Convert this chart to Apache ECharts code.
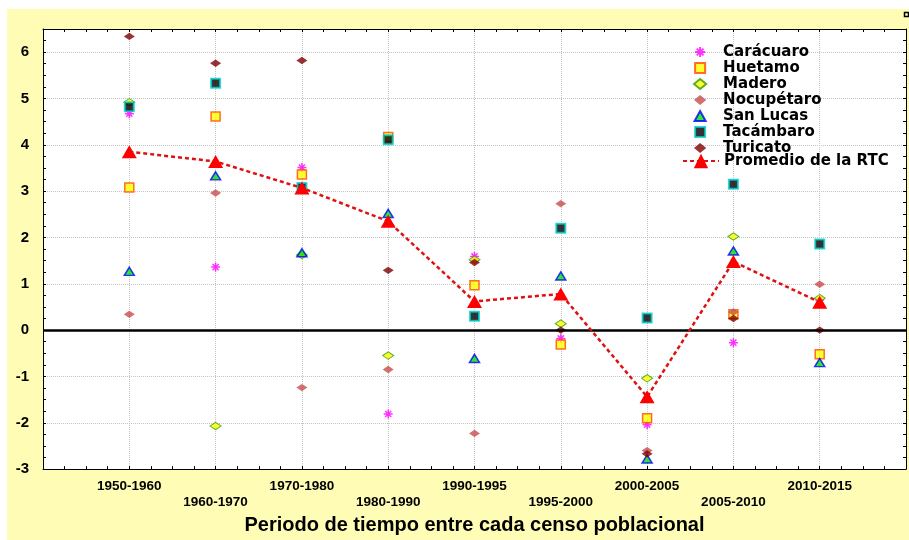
<!DOCTYPE html>
<html>
<head>
<meta charset="utf-8">
<script src="https://cdn.jsdelivr.net/npm/echarts@6/dist/echarts.min.js"></script>
<style>
html,body{margin:0;padding:0;background:#fff;}
#wrap{position:relative;width:909px;height:540px;background:#fff;overflow:hidden;}
#yellow{position:absolute;left:7px;top:9px;width:902px;height:531px;background:#FFFCB6;}
#chart{position:absolute;left:0;top:0;width:909px;height:540px;}
</style>
</head>
<body>
<div id="wrap"><div id="yellow"></div><div id="chart"></div></div>
<script>
const categories = ['1950-1960','1960-1970','1970-1980','1980-1990','1990-1995','1995-2000','2000-2005','2005-2010','2010-2015'];
const caracuaro  = [4.67, 1.36, 3.51, -1.81, 1.59, -0.18, -2.04, -0.27, 0.65];
const huetamo    = [3.08, 4.61, 3.36, 4.17, 0.97, -0.31, -1.90, 0.34, -0.52];
const madero     = [4.92, -2.07, 1.62, -0.55, 1.52, 0.14, -1.04, 2.02, 0.69];
const nocupetaro = [0.34, 2.96, -1.24, -0.85, -2.23, 2.73, -2.60, 0.39, 0.99];
const sanLucas   = [1.27, 3.33, 1.67, 2.52, -0.61, 1.17, -2.78, 1.71, -0.70];
const tacambaro  = [4.82, 5.33, 3.08, 4.11, 0.30, 2.20, 0.26, 3.15, 1.86];
const turicato   = [6.34, 5.76, 5.82, 1.29, 1.46, 0.00, -2.67, 0.25, 0.00];
const promedio   = [3.85, 3.64, 3.07, 2.35, 0.62, 0.78, -1.44, 1.48, 0.60];
const yTicks = [-3, -2, -1, 0, 1, 2, 3, 4, 5, 6];

const toPts = arr => arr.map((v, i) => [i + 1, v]);
const FONT = 'Liberation Sans, Arial, sans-serif';
const isInt = v => Math.abs(v - Math.round(v)) < 1e-6;

const SYM_STAR = 'path://M5,0L5,10M0,5L10,5M1.6,1.6L8.4,8.4M8.4,1.6L1.6,8.4';
const SYM_RECT = 'path://M0,0L10,0L10,10L0,10Z';
const SYM_DIAMOND = 'path://M5.5,0L11,4.5L5.5,9L0,4.5Z';
const SYM_TRI = 'path://M5,0L10,9L0,9Z';

const chart = echarts.init(document.getElementById('chart'), null, {renderer: 'canvas'});

const tickAxisX = (pos, labels) => ({
  type: 'value', position: pos, min: 0, max: 10, interval: 0.25,
  axisLine: {show: true, onZero: false, lineStyle: {color: '#000', width: 1}},
  axisTick: {show: true, inside: true, length: 3, lineStyle: {color: '#000'}},
  splitLine: {show: false},
  axisLabel: labels ? {
    show: true, color: '#000', fontSize: 13.5, fontWeight: 'bold', fontFamily: FONT,
    lineHeight: 16, margin: 9,
    formatter: v => {
      if (!isInt(v)) return '';
      const k = Math.round(v);
      if (k < 1 || k > categories.length) return '';
      return (k % 2 === 0 ? '\n' : '') + categories[k - 1];
    }
  } : {show: false},
  name: labels ? 'Periodo de tiempo entre cada censo poblacional' : '',
  nameLocation: 'middle', nameGap: 44,
  nameTextStyle: {fontSize: 20, fontWeight: 'bold', color: '#000', fontFamily: FONT}
});
const tickAxisY = (pos, labels) => ({
  type: 'value', position: pos, min: -3, max: 6.5, interval: 0.25,
  axisLine: {show: true, onZero: false, lineStyle: {color: '#000', width: 1}},
  axisTick: {show: true, inside: true, length: 3, lineStyle: {color: '#000'}},
  splitLine: {show: false},
  axisLabel: labels ? {
    show: true, color: '#000', fontSize: 15, fontWeight: 'bold', fontFamily: FONT, margin: 14,
    formatter: v => (isInt(v) && yTicks.indexOf(Math.round(v)) >= 0) ? String(Math.round(v)) : ''
  } : {show: false}
});

const scatter = (name, data, symbol, size, style, extra) => Object.assign({
  name, type: 'scatter', xAxisIndex: 0, yAxisIndex: 0,
  data: toPts(data), symbol, symbolSize: size, itemStyle: style, symbolKeepAspect: true,
  emphasis: {disabled: true}
}, extra || {});

const legendText = {fontSize: 15, fontWeight: 'bold', color: '#000', fontFamily: 'DejaVu Sans, sans-serif', lineHeight: 16};

const option = {
  animation: false,
  backgroundColor: 'transparent',
  grid: {left: 43, top: 29, right: 1, bottom: 68, show: true, backgroundColor: '#fff', borderWidth: 0, containLabel: false},
  graphic: [{type: 'rect', shape: {x: 904.5, y: 12.5, width: 4, height: 4}, style: {fill: 'none', stroke: '#000', lineWidth: 1.5}}],
  xAxis: [
    tickAxisX('bottom', true),
    tickAxisX('top', false),
    {type: 'value', position: 'bottom', min: 0, max: 10, interval: 1,
     axisLine: {show: false}, axisTick: {show: false}, axisLabel: {show: false},
     splitLine: {show: true, lineStyle: {color: '#c4c4c4', width: 1, type: 'dotted'}}}
  ],
  yAxis: [
    tickAxisY('left', true),
    tickAxisY('right', false),
    {type: 'value', position: 'left', min: -3, max: 6.5, interval: 1,
     axisLine: {show: false}, axisTick: {show: false}, axisLabel: {show: false},
     splitLine: {show: true, lineStyle: {color: '#c4c4c4', width: 1, type: 'dotted'}}}
  ],
  legend: [{
    orient: 'vertical', left: 693, top: 44, padding: 0, itemGap: 0,
    itemWidth: 36, itemHeight: 10, selectedMode: false, symbolKeepAspect: true,
    textStyle: legendText,
    data: ['Carácuaro', 'Huetamo', 'Madero', 'Nocupétaro', 'San Lucas', 'Tacámbaro', 'Turicato']
  }, {
    orient: 'vertical', left: 682, top: 153, padding: 0, itemGap: 0,
    itemWidth: 36, itemHeight: 18, selectedMode: false, symbolKeepAspect: true,
    textStyle: legendText,
    data: ['Promedio de la RTC']
  }],
  series: [
    scatter('Carácuaro', caracuaro, SYM_STAR, 9,
      {color: '#FF00FF', borderColor: '#FF00FF', borderWidth: 1.5},
      {markLine: {silent: true, symbol: 'none', label: {show: false}, animation: false,
        lineStyle: {color: '#000', width: 2.5, type: 'solid'}, emphasis: {disabled: true},
        data: [{yAxis: 0}]}}),
    scatter('Huetamo', huetamo, SYM_RECT, 9, {color: '#FFFF00', borderColor: '#FF4A00', borderWidth: 1.5}),
    scatter('Madero', madero, SYM_DIAMOND, [11, 9], {color: '#FFFF00', borderColor: '#2E9A00', borderWidth: 1}),
    scatter('Nocupétaro', nocupetaro, SYM_DIAMOND, [11, 9], {color: '#C84B4B'}),
    scatter('San Lucas', sanLucas, SYM_TRI, [10, 9], {color: '#00E000', borderColor: '#0000FF', borderWidth: 1.5}),
    scatter('Tacámbaro', tacambaro, SYM_RECT, 9, {color: '#000000', borderColor: '#00CFCF', borderWidth: 2}),
    scatter('Turicato', turicato, SYM_DIAMOND, [11, 9], {color: '#800000'}),
    {
      name: 'Promedio de la RTC', type: 'line', xAxisIndex: 0, yAxisIndex: 0,
      data: toPts(promedio), symbol: 'triangle', symbolSize: [15, 13],
      itemStyle: {color: '#FF0000'},
      lineStyle: {color: '#E01010', width: 2.5, type: [4, 3]},
      emphasis: {disabled: true}, z: 5
    }
  ]
};
chart.setOption(option);
</script>
</body>
</html>
